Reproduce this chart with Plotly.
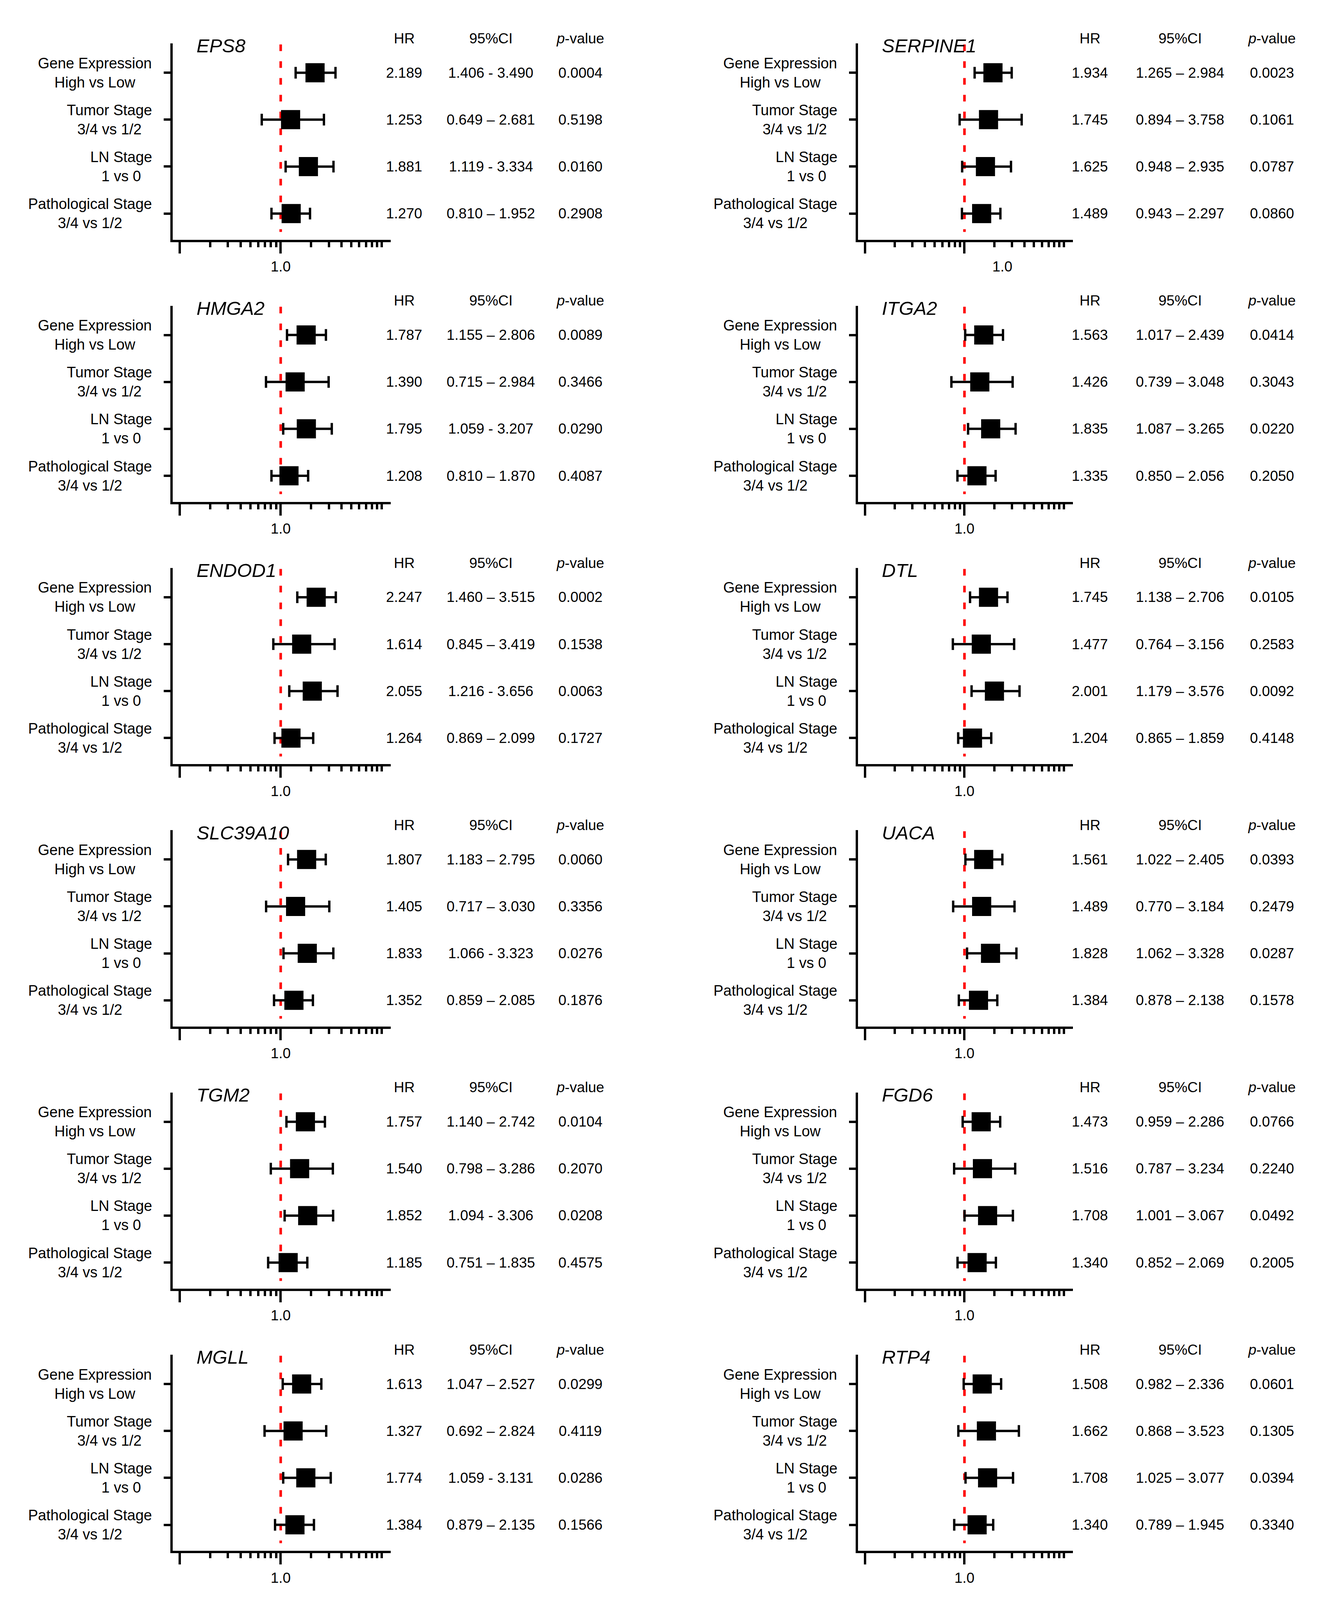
import plotly.graph_objects as go

# ---------------- data ----------------
genes = ["EPS8", "SERPINE1", "HMGA2", "ITGA2", "ENDOD1", "DTL",
         "SLC39A10", "UACA", "TGM2", "FGD6", "MGLL", "RTP4"]

categories = ["Gene Expression<br>High vs Low",
              "Tumor Stage<br>3/4 vs 1/2",
              "LN Stage<br>1 vs 0",
              "Pathological Stage<br>3/4 vs 1/2"]

hr = [
    [2.189, 1.253, 1.881, 1.270],   # EPS8
    [1.934, 1.745, 1.625, 1.489],   # SERPINE1
    [1.787, 1.390, 1.795, 1.208],   # HMGA2
    [1.563, 1.426, 1.835, 1.335],   # ITGA2
    [2.247, 1.614, 2.055, 1.264],   # ENDOD1
    [1.745, 1.477, 2.001, 1.204],   # DTL
    [1.807, 1.405, 1.833, 1.352],   # SLC39A10
    [1.561, 1.489, 1.828, 1.384],   # UACA
    [1.757, 1.540, 1.852, 1.185],   # TGM2
    [1.473, 1.516, 1.708, 1.340],   # FGD6
    [1.613, 1.327, 1.774, 1.384],   # MGLL
    [1.508, 1.662, 1.708, 1.340],   # RTP4
]

ci_low = [
    [1.406, 0.649, 1.119, 0.810],
    [1.265, 0.894, 0.948, 0.943],
    [1.155, 0.715, 1.059, 0.810],
    [1.017, 0.739, 1.087, 0.850],
    [1.460, 0.845, 1.216, 0.869],
    [1.138, 0.764, 1.179, 0.865],
    [1.183, 0.717, 1.066, 0.859],
    [1.022, 0.770, 1.062, 0.878],
    [1.140, 0.798, 1.094, 0.751],
    [0.959, 0.787, 1.001, 0.852],
    [1.047, 0.692, 1.059, 0.879],
    [0.982, 0.868, 1.025, 0.789],
]

ci_high = [
    [3.490, 2.681, 3.334, 1.952],
    [2.984, 3.758, 2.935, 2.297],
    [2.806, 2.984, 3.207, 1.870],
    [2.439, 3.048, 3.265, 2.056],
    [3.515, 3.419, 3.656, 2.099],
    [2.706, 3.156, 3.576, 1.859],
    [2.795, 3.030, 3.323, 2.085],
    [2.405, 3.184, 3.328, 2.138],
    [2.742, 3.286, 3.306, 1.835],
    [2.286, 3.234, 3.067, 2.069],
    [2.527, 2.824, 3.131, 2.135],
    [2.336, 3.523, 3.077, 1.945],
]

p_values = [
    ["0.0004", "0.5198", "0.0160", "0.2908"],
    ["0.0023", "0.1061", "0.0787", "0.0860"],
    ["0.0089", "0.3466", "0.0290", "0.4087"],
    ["0.0414", "0.3043", "0.0220", "0.2050"],
    ["0.0002", "0.1538", "0.0063", "0.1727"],
    ["0.0105", "0.2583", "0.0092", "0.4148"],
    ["0.0060", "0.3356", "0.0276", "0.1876"],
    ["0.0393", "0.2479", "0.0287", "0.1578"],
    ["0.0104", "0.2070", "0.0208", "0.4575"],
    ["0.0766", "0.2240", "0.0492", "0.2005"],
    ["0.0299", "0.4119", "0.0286", "0.1566"],
    ["0.0601", "0.1305", "0.0394", "0.3340"],
]

# separator used in the printed CI text
ci_sep = [
    ["-", "–", "-", "–"],
    ["–", "–", "–", "–"],
    ["–", "–", "-", "–"],
    ["–", "–", "–", "–"],
    ["–", "–", "-", "–"],
    ["–", "–", "–", "–"],
    ["–", "–", "-", "–"],
    ["–", "–", "–", "–"],
    ["–", "–", "-", "–"],
    ["–", "–", "–", "–"],
    ["–", "–", "-", "–"],
    ["–", "–", "–", "–"],
]

headers = ["HR", "95%CI", "<i>p</i>-value"]
x_major_ticks = [0.1, 1.0]
x_major_text = ["", "1.0"]
x_minor_ticks = [0.2, 0.3, 0.4, 0.5, 0.6, 0.7, 0.8, 0.9,
                 2, 3, 4, 5, 6, 7, 8, 9, 10]
ref_value = 1.0

# ---------------- layout geometry (pixels of the 3404x4533 design) ----------------
W, H = 3404, 4533
col_L = [439, 2193]          # y-axis line x position
col_E = [561, 553]           # x-axis length
col_hr = [595, 596]
col_ci = [817, 827]
col_p = [1046, 1062]
R0, dR = 206, 743            # first row y of first panel, panel step
ROW = 133.0                  # row spacing
FONT = "Liberation Sans, Arial, sans-serif"
label_shift = {1: 97}        # tick label offset (SERPINE1)

fig = go.Figure()
layout_axes = {}
annotations = []

for k, gene in enumerate(genes):
    col, prow = k % 2, k // 2
    L = col_L[col]
    R = R0 + dR * prow
    n = k + 1
    xa = "x" if n == 1 else f"x{n}"
    ya = "y" if n == 1 else f"y{n}"
    xkey = "xaxis" if n == 1 else f"xaxis{n}"
    ykey = "yaxis" if n == 1 else f"yaxis{n}"
    rows = list(range(len(categories)))

    # reference line at HR = 1
    fig.add_trace(go.Scatter(
        x=[ref_value, ref_value], y=[-80 / ROW, 451 / ROW], mode="lines",
        line=dict(color="#FF0000", width=6.5, dash="17px,26px"),
        xaxis=xa, yaxis=ya, hoverinfo="skip", showlegend=False))

    # confidence intervals
    fig.add_trace(go.Scatter(
        x=hr[k], y=rows, mode="markers",
        marker=dict(size=2, color="rgba(0,0,0,0)"),
        error_x=dict(type="data", symmetric=False,
                     array=[h - h0 for h, h0 in zip(ci_high[k], hr[k])],
                     arrayminus=[h0 - l for h0, l in zip(hr[k], ci_low[k])],
                     color="black", thickness=6, width=15),
        xaxis=xa, yaxis=ya, showlegend=False))

    # HR boxes
    fig.add_trace(go.Scatter(
        x=hr[k], y=rows, mode="markers",
        marker=dict(symbol="square", size=49, color="black",
                    line=dict(width=0)),
        xaxis=xa, yaxis=ya, showlegend=False))

    layout_axes[xkey] = dict(
        type="log", range=[-1.07, 1.09], anchor=ya,
        domain=[(L + 3) / W, (L + col_E[col]) / W],
        showline=True, linecolor="black", linewidth=6,
        ticks="outside", ticklen=29, tickwidth=6, tickcolor="black",
        tickmode="array", tickvals=x_major_ticks, ticktext=x_major_text,
        tickfont=dict(family=FONT, size=37, color="black"),
        ticklabelstandoff=2, ticklabelshift=label_shift.get(k, 0),
        minor=dict(tickmode="array", tickvals=x_minor_ticks, ticks="outside",
                   ticklen=13, tickwidth=6, tickcolor="black", showgrid=False),
        showgrid=False, zeroline=False, fixedrange=True)
    layout_axes[ykey] = dict(
        range=[473 / ROW, -83 / ROW], anchor=xa,
        domain=[1 - (R + 473) / H, 1 - (R - 83) / H],
        showline=True, linecolor="black", linewidth=6,
        ticks="outside", ticklen=17, tickwidth=6, tickcolor="black",
        tickmode="array", tickvals=rows, showticklabels=False,
        showgrid=False, zeroline=False, fixedrange=True)

    # gene name
    annotations.append(dict(
        text=gene, xref="paper", x=(L + 62) / W, xanchor="left",
        yref="paper", y=1 - (R - 76) / H, yanchor="middle", showarrow=False,
        font=dict(family=FONT, size=49, color="black", style="italic")))

    # column headers
    for txt, off in zip(headers, [col_hr[col], col_ci[col], col_p[col]]):
        annotations.append(dict(
            text=txt, xref="paper", x=(L + off) / W, xanchor="center",
            yref="paper", y=1 - (R - 97) / H, yanchor="middle", showarrow=False,
            font=dict(family=FONT, size=37, color="black")))

    for i in rows:
        # category label
        annotations.append(dict(
            text=categories[i], xref="paper", x=(L - 48) / W, xanchor="right",
            yref=ya, y=i, yanchor="middle", align="center", showarrow=False,
            font=dict(family=FONT, size=38, color="black")))
        vals = [f"{hr[k][i]:.3f}",
                f"{ci_low[k][i]:.3f} {ci_sep[k][i]} {ci_high[k][i]:.3f}",
                p_values[k][i]]
        for txt, off in zip(vals, [col_hr[col], col_ci[col], col_p[col]]):
            annotations.append(dict(
                text=txt, xref="paper", x=(L + off) / W, xanchor="center",
                yref=ya, y=i, yanchor="middle", showarrow=False,
                font=dict(family=FONT, size=37, color="black")))

fig.update_layout(
    autosize=True, margin=dict(l=0, r=0, t=0, b=0),
    paper_bgcolor="white", plot_bgcolor="white", showlegend=False,
    font=dict(family=FONT, color="black"),
    annotations=annotations, **layout_axes)

fit_script = (
    "document.documentElement.style.margin='0';"
    "document.body.style.margin='0';"
    "document.body.style.overflow='hidden';"
    "var gd=document.getElementById('{plot_id}');"
    "gd.style.width='100vw';gd.style.height='100vh';"
    "Plotly.Plots.resize(gd);"
)

fig.write_html("out.html", default_width="100vw", default_height="100vh",
               config={"responsive": True, "displayModeBar": False},
               post_script=fit_script)
